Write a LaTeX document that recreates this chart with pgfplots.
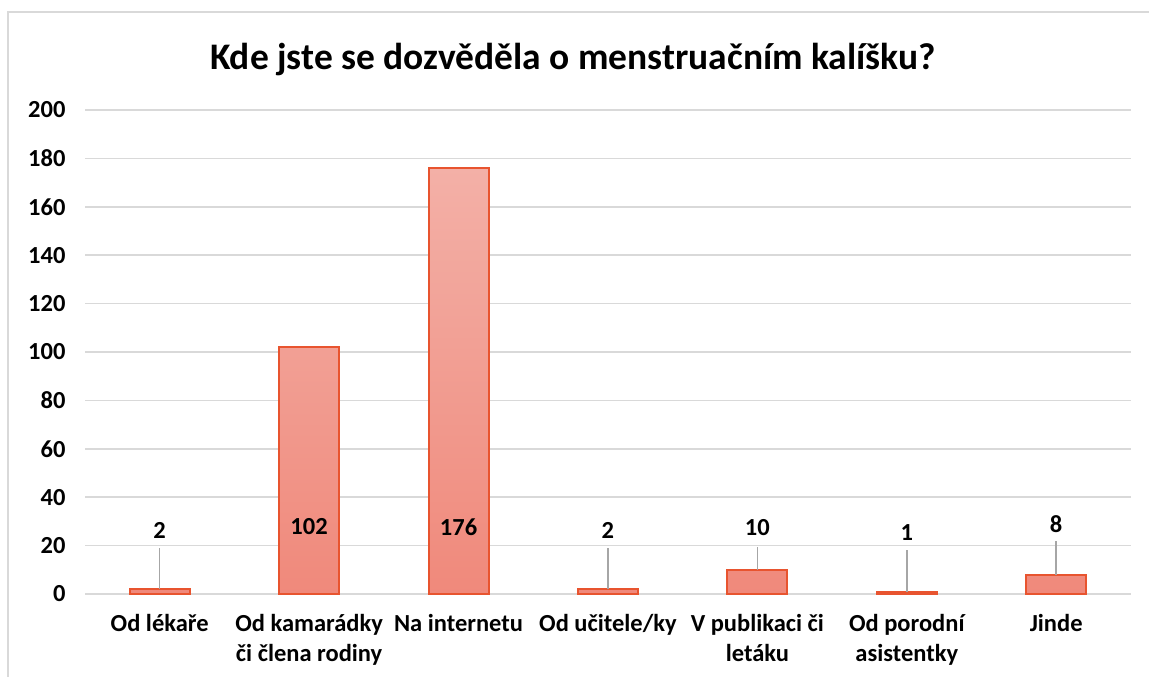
\documentclass[border=0pt]{standalone}
\usepackage{pgfplots}
\pgfplotsset{compat=1.18}
\usepackage{fontspec}
\setmainfont{Carlito}
\definecolor{barline}{HTML}{E8542F}
\definecolor{bartop}{HTML}{F3B0A7}
\definecolor{barbot}{HTML}{F0897B}
\definecolor{gridc}{HTML}{D9D9D9}
\definecolor{leader}{HTML}{A6A6A6}
\begin{document}
\begin{tikzpicture}[x=1pt,y=1pt]
\useasboundingbox (0,0) rectangle (1149,677);
\draw[gridc, line width=1.5pt] (8,0) -- (8,665) -- (1149,665);
\node[font=\bfseries\fontsize{37.5}{42}\selectfont] at (573,617) {Kde jste se dozvěděla o menstruačním kalíšku?};
\begin{axis}[
  at={(85pt,83pt)}, anchor=south west,
  scale only axis, width=1046pt, height=484pt,
  xmin=-0.5, xmax=6.5, ymin=0, ymax=200,
  ytick={0,20,...,200},
  xtick={0,1,2,3,4,5,6},
  xticklabels={Od lékaře, Od kamarádky\\či člena rodiny, Na internetu, Od učitele/ky, V publikaci či\\letáku, Od porodní\\asistentky, Jinde},
  axis x line*=bottom, axis y line*=left,
  x axis line style={draw=gridc, line width=1.5pt, -},
  y axis line style={draw=none},
  major tick length=0pt,
  ymajorgrids, grid style={gridc, line width=1.5pt},
  /pgf/number format/assume math mode=true,
  yticklabel style={font=\bfseries\fontsize{24.5}{30}\selectfont, xshift=-16pt},
  xticklabel style={font=\bfseries\fontsize{24.5}{30}\selectfont, align=center, yshift=-17pt},
  clip=false,
]
\addplot[ybar, bar width=60pt, draw=barline, line width=2pt, top color=bartop, bottom color=barbot]
  coordinates {(0,2) (1,102) (2,176) (3,2) (4,10) (5,1) (6,8)};
\addplot[draw=none, mark=none, forget plot,
  error bars/.cd, y dir=plus, y explicit, error mark=none,
  error bar style={leader, line width=1.5pt}]
  coordinates {(0,2) +- (0,17) (3,2) +- (0,17) (4,10) +- (0,9.4) (5,1) +- (0,17.2) (6,8) +- (0,13.9)};
\addplot[draw=none, mark=none, forget plot, nodes near coords, point meta=explicit symbolic,
  every node near coord/.append style={anchor=center, font=\bfseries\fontsize{24.5}{30}\selectfont}]
  coordinates {(0,26.4) [2] (1,27.7) [102] (2,27.7) [176] (3,26.4) [2] (4,27.3) [10] (5,25.2) [1] (6,28.9) [8]};
\end{axis}
\end{tikzpicture}
\end{document}
